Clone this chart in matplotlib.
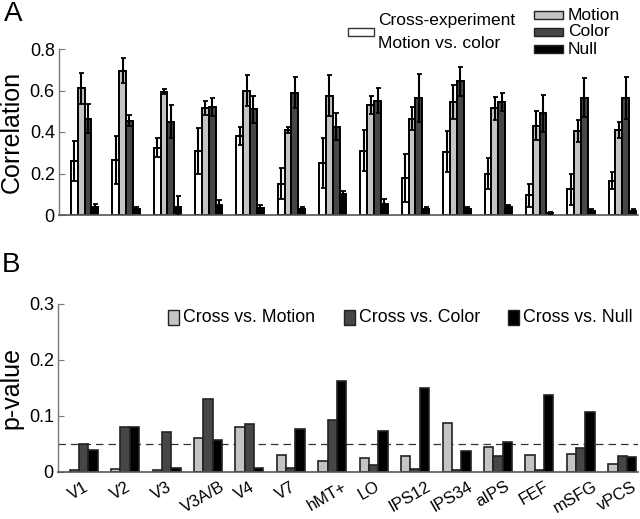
import numpy as np
import matplotlib.pyplot as plt
import matplotlib.transforms as mtransforms
from matplotlib.patches import Rectangle

plt.rcParams['font.family'] = ['Liberation Sans', 'DejaVu Sans']

regions = ['V1', 'V2', 'V3', 'V3A/B', 'V4', 'V7', 'hMT+', 'LO',
           'IPS12', 'IPS34', 'aIPS', 'FEF', 'mSFG', 'vPCS']

# Panel A: correlation (mean and error)
cross = [0.26, 0.265, 0.325, 0.31, 0.38, 0.15, 0.25, 0.31, 0.18, 0.305, 0.20, 0.095, 0.125, 0.165]
cross_err = [0.095, 0.115, 0.045, 0.11, 0.045, 0.075, 0.12, 0.10, 0.115, 0.10, 0.075, 0.055, 0.075, 0.04]
motion = [0.61, 0.695, 0.595, 0.515, 0.60, 0.41, 0.575, 0.53, 0.465, 0.545, 0.515, 0.43, 0.405, 0.41]
motion_err = [0.075, 0.06, 0.012, 0.035, 0.075, 0.015, 0.10, 0.045, 0.055, 0.08, 0.055, 0.07, 0.055, 0.04]
color = [0.465, 0.455, 0.45, 0.52, 0.51, 0.59, 0.425, 0.55, 0.565, 0.645, 0.545, 0.49, 0.565, 0.565]
color_err = [0.07, 0.025, 0.08, 0.045, 0.065, 0.075, 0.065, 0.06, 0.115, 0.07, 0.045, 0.09, 0.095, 0.10]
null = [0.04, 0.03, 0.04, 0.05, 0.035, 0.03, 0.10, 0.055, 0.03, 0.03, 0.04, 0.01, 0.02, 0.02]
null_err = [0.015, 0.01, 0.05, 0.02, 0.015, 0.01, 0.015, 0.02, 0.01, 0.01, 0.008, 0.005, 0.01, 0.01]

# Panel B: p-values
p_motion = [0.004, 0.006, 0.004, 0.06, 0.081, 0.03, 0.02, 0.025, 0.028, 0.088, 0.044, 0.031, 0.033, 0.014]
p_color = [0.05, 0.08, 0.071, 0.13, 0.085, 0.007, 0.093, 0.013, 0.006, 0.003, 0.029, 0.003, 0.043, 0.029]
p_null = [0.04, 0.081, 0.008, 0.057, 0.007, 0.076, 0.163, 0.073, 0.15, 0.037, 0.053, 0.138, 0.108, 0.027]

WHITE, LIGHT, DARK, BLACK = '#ffffff', '#c4c4c4', '#464646', '#000000'
x = np.arange(1, len(regions) + 1)

fig = plt.figure(figsize=(6.4, 5.19), dpi=100)

# ---------------- Panel A ----------------
axA = fig.add_axes([59 / 640, 1 - 215 / 519, 579 / 640, 166 / 519])
bw = 0.165
series = [(cross, cross_err, WHITE), (motion, motion_err, LIGHT),
          (color, color_err, DARK), (null, null_err, BLACK)]
for i, (vals, errs, c) in enumerate(series):
    pos = x + (i - 1.5) * bw
    axA.bar(pos, vals, width=bw, color=c, edgecolor='black', lw=1.4, zorder=2)
    axA.errorbar(pos, vals, yerr=errs, fmt='none', ecolor='black',
                 elinewidth=1.5, capsize=1.8, capthick=1.3, zorder=3)

axA.set_xlim(0.38, 14.38)
axA.set_ylim(0, 0.8)
axA.set_yticks([0, 0.2, 0.4, 0.6, 0.8])
axA.set_yticklabels(['0', '0.2', '0.4', '0.6', '0.8'])
axA.set_xticks([])
axA.set_ylabel('Correlation', fontsize=18, labelpad=4)

# ---------------- Panel B ----------------
axB = fig.add_axes([58 / 640, 1 - 472 / 519, 580 / 640, 168 / 519])
bw2 = 0.225
for i, (vals, c) in enumerate([(p_motion, LIGHT), (p_color, DARK), (p_null, BLACK)]):
    axB.bar(x + (i - 1) * bw2, vals, width=bw2, color=c,
            edgecolor='#222222', lw=1.2, zorder=2)
axB.axhline(0.05, color='#333333', lw=0.9, ls=(0, (6, 4)), zorder=1)

axB.set_xlim(0.38, 14.38)
axB.set_ylim(0, 0.3)
axB.set_yticks([0, 0.1, 0.2, 0.3])
axB.set_yticklabels(['0', '0.1', '0.2', '0.3'])
axB.set_xticks(x)
axB.set_xticklabels(regions, rotation=30, ha='center', va='top', fontsize=12)
axB.tick_params(axis='x', length=0, pad=5)
shift = mtransforms.ScaledTranslation(-5 / 100, 0, fig.dpi_scale_trans)
for lab in axB.get_xticklabels():
    lab.set_transform(lab.get_transform() + shift)
axB.set_ylabel('p-value', fontsize=18, labelpad=4)

for ax in (axA, axB):
    for s in ('top', 'right'):
        ax.spines[s].set_visible(False)
    ax.spines['left'].set_color('#777777')
    ax.spines['bottom'].set_color('#555555')
    ax.spines['left'].set_linewidth(1.0)
    ax.spines['bottom'].set_linewidth(1.2)
    ax.tick_params(axis='y', direction='in', length=4, color='#777777',
                   labelsize=13, pad=3)

# ---------------- legends (drawn in figure pixels) ----------------
def fig_rect(x0, y0, w, h, fc, ec='black', lw=1.0):
    fig.patches.append(Rectangle((x0 / 640, 1 - (y0 + h) / 519), w / 640, h / 519,
                                 transform=fig.transFigure, facecolor=fc,
                                 edgecolor=ec, lw=lw))

def fig_text(x0, y0, s, size, **kw):
    fig.text(x0 / 640, 1 - y0 / 519, s, fontsize=size, va='center', ha='left', **kw)

# Panel A legend
fig_rect(348, 28, 26, 8, WHITE, ec='#333333')
fig_text(378, 21, 'Cross-experiment', 12.5)
fig_text(378, 44, 'Motion vs. color', 12.5)
for yc, c, lab in [(15, LIGHT, 'Motion'), (32, DARK, 'Color'), (49, BLACK, 'Null')]:
    fig_rect(534, yc - 4, 29, 8, c, ec='#222222')
    fig_text(568, yc, lab, 12.5)

# Panel B legend
for xx, c, lab in [(168, LIGHT, 'Cross vs. Motion'), (344, DARK, 'Cross vs. Color'),
                   (508, BLACK, 'Cross vs. Null')]:
    fig_rect(xx, 310, 11, 15, c, ec='#222222')
    fig_text(xx + 15, 318, lab, 12.8)

# Panel letters
fig_text(4, 14, 'A', 20)
fig_text(2, 265, 'B', 20)

fig.savefig('out.png', dpi=100)
